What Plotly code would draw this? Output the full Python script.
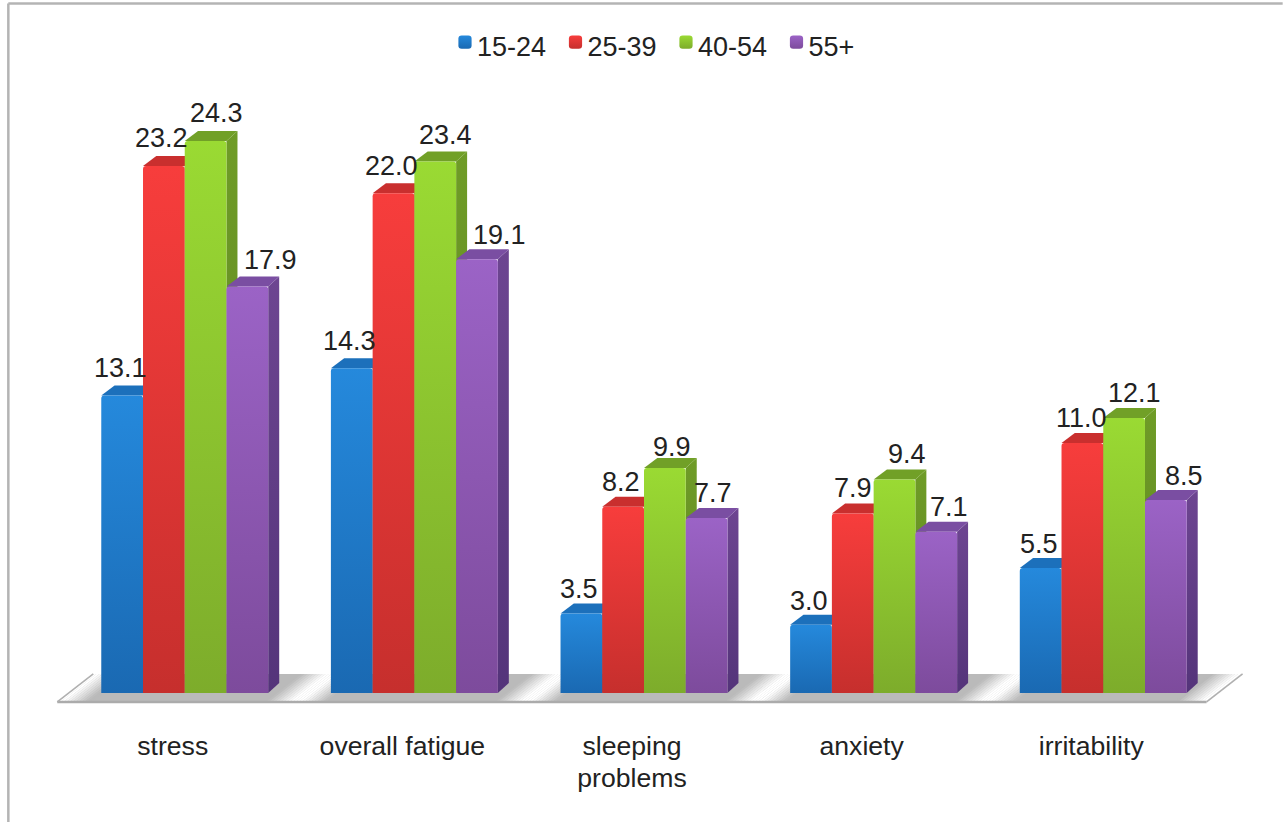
import plotly.graph_objects as go

# Survey results: share of respondents reporting each complaint, by age band
categories = ["stress", "overall fatigue", "sleeping<br>problems", "anxiety", "irritability"]
age_15_24 = [13.1, 14.3, 3.5, 3.0, 5.5]
age_25_39 = [23.2, 22.0, 8.2, 7.9, 11.0]
age_40_54 = [24.3, 23.4, 9.9, 9.4, 12.1]
age_55_up = [17.9, 19.1, 7.7, 7.1, 8.5]

series = [
    ("15-24", age_15_24),
    ("25-39", age_25_39),
    ("40-54", age_40_54),
    ("55+", age_55_up),
]

# face colours per series: front top, front bottom, side top, side bottom, top face
palette = [
    ("#2589dc", "#1a69b2", "#16598f", "#124a78", "#1c70bb"),
    ("#f73d3c", "#c62f2d", "#a82523", "#8c1e1c", "#c92f2e"),
    ("#9ada33", "#7dac2b", "#6f9c27", "#5c8220", "#71a027"),
    ("#9b63c6", "#7d4b9c", "#6d4591", "#54347a", "#7a4ea2"),
]

# nudges of the value labels, in px, per series and category
label_shift = [
    [-2, -2, -2, -2, -2],
    [-2, -2, -2, 0, -1],
    [11, 10, 7, 12, 10],
    [23, 23, 6, 13, 18],
]
label_lift = [
    [27, 27, 24, 24, 24],
    [28, 27, 25, 26, 25],
    [28, 26, 21, 25, 25],
    [26, 24, 25, 25, 24],
]

W, H = 1283, 822
PX_PER_CAT = 229.75
PX_PER_UNIT = 22.7
ZERO_PX = 693
FIRST_CENTER_PX = 184.5
X_RANGE = [-0.7, 4.7]
Y_RANGE = [-1.5, 28]

BARGAP = 0.273
bar_w = (1 - BARGAP) / 4
depth_x = 11 / PX_PER_CAT
depth_y = 10 / PX_PER_UNIT
shear = 36 / PX_PER_CAT  # floor lean from front edge to back edge
floor_front = -9 / PX_PER_UNIT
floor_back = 19 / PX_PER_UNIT
floor_gray = (186, 186, 186)

shapes = []


def floor_strip(x0, x1, rgb):
    """One leaning slice of the floor, x0/x1 measured on the front edge."""
    path = (
        f"M {x0} {floor_front} L {x1} {floor_front} "
        f"L {x1 + shear} {floor_back} L {x0 + shear} {floor_back} Z"
    )
    shapes.append(dict(type="path", path=path, xref="x", yref="y", layer="below",
                       line_width=0, fillcolor=f"rgb{rgb}"))


# the floor: grey slab, faded to white in the gaps between the groups
n = len(categories)
left = -0.555
right = n - 1 + 0.45
floor_strip(left, right, floor_gray)
fade = 30 / PX_PER_CAT
white_half = 5 / PX_PER_CAT
step = 3 / PX_PER_CAT


def fade_band(center, lo, hi):
    count = int(round((hi - lo) / step))
    for k in range(count):
        a = lo + k * step
        b = min(a + step + 0.001, hi)
        d = max(0.0, abs((a + b) / 2 - center) - white_half)
        t = min(1.0, d / (fade - white_half))
        rgb = tuple(int(round(255 + (g - 255) * t)) for g in floor_gray)
        floor_strip(a, b, rgb)


fade_band(left, left, left + fade + 0.02)
for i in range(n - 1):
    mid = i + 0.5 - 4 / PX_PER_CAT
    fade_band(mid, mid - fade, mid + fade)
fade_band(right, right - fade - 0.02, right)

# floor outline: front edge and the two leaning ends
edge = dict(type="line", xref="x", yref="y", layer="below", line=dict(color="#ababab", width=2.5))
shapes.append({**edge, "x0": left, "x1": right, "y0": floor_front, "y1": floor_front})
shapes.append({**edge, "x0": left, "x1": left + shear, "y0": floor_front, "y1": floor_back, "line": dict(color="#b0b0b0", width=1.5)})
shapes.append({**edge, "x0": right, "x1": right + shear, "y0": floor_front, "y1": floor_back, "line": dict(color="#b0b0b0", width=1.5)})

# side and top faces of every bar, derived from its value; bars sit above them
for s, (name, values) in enumerate(series):
    for i, v in enumerate(values):
        x0 = i - 2 * bar_w + s * bar_w
        x1 = x0 + bar_w
        shapes.append(dict(
            type="path", layer="below", xref="x", yref="y", line_width=0,
            name=f"side-{s}", fillcolor=palette[s][2],
            path=f"M {x1} 0 L {x1 + depth_x} {depth_y} L {x1 + depth_x} {v + depth_y} L {x1} {v} Z",
        ))
        shapes.append(dict(
            type="path", layer="below", xref="x", yref="y", line_width=0,
            name=f"top-{s}", fillcolor=palette[s][4],
            path=f"M {x0} {v} L {x1} {v} L {x1 + depth_x} {v + depth_y} L {x0 + depth_x + 0.01} {v + depth_y} Z",
        ))

fig = go.Figure()
positions = list(range(n))
for s, (name, values) in enumerate(series):
    fig.add_bar(
        x=positions, y=values, name=name,
        marker=dict(color=palette[s][1], line_width=0),
        hoverinfo="x+y+name",
    )

# value labels just above the front of each bar
annotations = []
for s, (name, values) in enumerate(series):
    for i, v in enumerate(values):
        annotations.append(dict(
            x=i - 2 * bar_w + (s + 0.5) * bar_w, y=v, xref="x", yref="y",
            text=f"{v:.1f}", showarrow=False, xanchor="center", yanchor="middle",
            xshift=label_shift[s][i], yshift=label_lift[s][i],
            font=dict(family="Liberation Sans", size=27, color="#222222"),
        ))

# thin page frame along the top and left
frame = dict(type="line", xref="paper", yref="paper", layer="below", line=dict(color="#b4b4b4", width=2.5))

plot_left = FIRST_CENTER_PX + X_RANGE[0] * PX_PER_CAT
plot_right = FIRST_CENTER_PX + X_RANGE[1] * PX_PER_CAT
plot_top = ZERO_PX - Y_RANGE[1] * PX_PER_UNIT
plot_bottom = ZERO_PX - Y_RANGE[0] * PX_PER_UNIT
to_paper_x = lambda px: (px - plot_left) / (plot_right - plot_left)
to_paper_y = lambda py: (plot_bottom - py) / (plot_bottom - plot_top)
shapes.append({**frame, "x0": to_paper_x(8), "x1": to_paper_x(8), "y0": to_paper_y(4), "y1": to_paper_y(822)})
shapes.append({**frame, "x0": to_paper_x(8), "x1": to_paper_x(1283), "y0": to_paper_y(4), "y1": to_paper_y(4)})

fig.update_layout(
    width=W, height=H, autosize=False,
    margin=dict(l=plot_left, r=W - plot_right, t=plot_top, b=H - plot_bottom, pad=0, autoexpand=False),
    paper_bgcolor="white", plot_bgcolor="white",
    barmode="group", bargap=BARGAP, bargroupgap=0, barcornerradius=3,
    showlegend=True,
    legend=dict(
        orientation="h", x=to_paper_x(658), xanchor="center", y=to_paper_y(46), yanchor="middle",
        xref="paper", yref="paper",
        font=dict(family="Liberation Sans", size=27, color="#222222"),
        bgcolor="rgba(0,0,0,0)", traceorder="normal", itemwidth=30,
        entrywidth=65.5, entrywidthmode="pixels",
    ),
    xaxis=dict(
        range=X_RANGE, tickmode="array", tickvals=positions, ticktext=categories,
        showgrid=False, zeroline=False, showline=False, ticks="",
        ticklabelshift=-12, ticklabelstandoff=0,
        tickfont=dict(family="Liberation Sans", size=26.6, color="#222222"),
    ),
    yaxis=dict(range=Y_RANGE, visible=False, showgrid=False, zeroline=False),
    shapes=shapes, annotations=annotations,
)

# vertical gradients on the bar faces and legend keys, tighter legend keys
post = """
var gd = document.getElementById('{plot_id}');
var pal = %s;
var svg = gd.querySelector('svg.main-svg');
var NS = 'http://www.w3.org/2000/svg';
var defs = svg.querySelector('defs');
function grad(id, c0, c1) {
  var g = document.createElementNS(NS, 'linearGradient');
  g.setAttribute('id', id);
  g.setAttribute('x1', '0'); g.setAttribute('y1', '0');
  g.setAttribute('x2', '0'); g.setAttribute('y2', '1');
  [[0, c0], [1, c1]].forEach(function (p) {
    var st = document.createElementNS(NS, 'stop');
    st.setAttribute('offset', p[0]); st.setAttribute('stop-color', p[1]);
    g.appendChild(st);
  });
  defs.appendChild(g);
}
pal.forEach(function (c, i) {
  grad('front' + i, c[0], c[1]);
  grad('side' + i, c[2], c[3]);
});
gd.querySelectorAll('.barlayer .trace').forEach(function (t, i) {
  t.querySelectorAll('.point path').forEach(function (p) {
    p.style.fill = 'url(#front' + i + ')';
  });
});
var sideFills = pal.map(function (c) { return c[2]; });
gd.querySelectorAll('.shapelayer path').forEach(function (p) {
  var f = window.getComputedStyle(p).fill;
  var probe = document.createElement('div');
  sideFills.forEach(function (col, i) {
    probe.style.color = col;
    document.body.appendChild(probe);
    var rgb = window.getComputedStyle(probe).color;
    document.body.removeChild(probe);
    if (rgb === f) p.style.fill = 'url(#side' + i + ')';
  });
});
gd.querySelectorAll('.legend .traces').forEach(function (t, i) {
  t.querySelectorAll('.legendpoints path').forEach(function (p) {
    p.style.fill = 'url(#front' + i + ')';
  });
  var sym = t.querySelector('.legendsymbols');
  if (sym) sym.setAttribute('transform', 'translate(6,-3) scale(1.1)');
});
gd.querySelectorAll('.xtick text tspan.line').forEach(function (ts, i) {
  if (i > 0) ts.setAttribute('y', parseFloat(ts.getAttribute('y')) - 2.5);
});
""" % str([list(p) for p in palette])

fig.write_html("out.html", post_script=post)
